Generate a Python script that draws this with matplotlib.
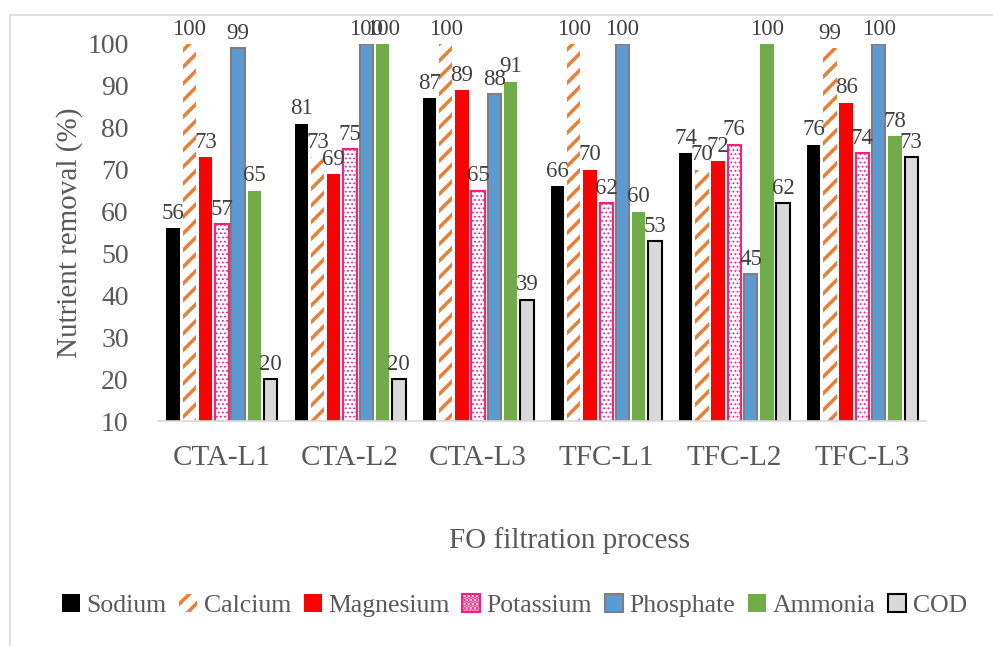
import matplotlib.pyplot as plt
import numpy as np
from matplotlib.lines import Line2D

plt.rcParams['font.family'] = ['Liberation Serif', 'DejaVu Serif']
plt.rcParams['hatch.linewidth'] = 2.5

# Data
processes = ['CTA-L1', 'CTA-L2', 'CTA-L3', 'TFC-L1', 'TFC-L2', 'TFC-L3']
sodium = [56, 81, 87, 66, 74, 76]
calcium = [100, 73, 100, 100, 70, 99]
magnesium = [73, 69, 89, 70, 72, 86]
potassium = [57, 75, 65, 62, 76, 74]
phosphate = [99, 100, 88, 100, 45, 100]
ammonia = [65, 100, 91, 60, 100, 78]
cod = [20, 20, 39, 53, 62, 73]
yticks = [10, 20, 30, 40, 50, 60, 70, 80, 90, 100]

series = [
    ('Sodium', sodium, dict(color='black', linewidth=0)),
    ('Calcium', calcium, dict(facecolor='white', edgecolor='#ED7D31', hatch='//', linewidth=0)),
    ('Magnesium', magnesium, dict(color='#FF0000', linewidth=0)),
    ('Potassium', potassium, dict(facecolor='white', edgecolor='#FF1F7A', hatch='....', linewidth=1.5)),
    ('Phosphate', phosphate, dict(facecolor='#5B9BD5', edgecolor='#7F7F7F', linewidth=1.5)),
    ('Ammonia', ammonia, dict(color='#70AD47', linewidth=0)),
    ('COD', cod, dict(facecolor='#D9D9D9', edgecolor='black', linewidth=1.5)),
]

text_col = '#595959'
fig = plt.figure(figsize=(9.93, 6.46), dpi=100)
ax = fig.add_axes((0.159, 0.348, 0.774, 0.584))

x = np.arange(len(processes))
pitch = 0.127
width = 0.105
for i, (name, vals, style) in enumerate(series):
    pos = x + (i - 3) * pitch
    # potassium dots are finer than the calcium stripes
    hlw = 0.8 if name == 'Potassium' else 2.5
    with plt.rc_context({'hatch.linewidth': hlw}):
        ax.bar(pos, vals, width, label=name, **style)
    for p, v in zip(pos, vals):
        ax.text(p, v + 1.0, str(v), ha='center', va='bottom', fontsize=16.5,
                color='#404040', clip_on=False)

ax.set_ylim(10, 100)
ax.set_xlim(-0.5, len(processes) - 0.5)
ax.set_yticks(yticks)
ax.set_xticks(x)
ax.set_xticklabels(processes)
ax.tick_params(axis='y', length=0, labelsize=20, labelcolor=text_col, pad=21)
ax.tick_params(axis='x', length=0, labelsize=21, labelcolor=text_col, pad=17)
for s in ['top', 'right', 'left']:
    ax.spines[s].set_visible(False)
ax.spines['bottom'].set_color('#D9D9D9')
ax.spines['bottom'].set_linewidth(1.2)

fig.text(70 / 993, 1 - 233 / 646, 'Nutrient removal (%)', rotation=90,
         ha='center', va='center', fontsize=21, color=text_col)
fig.text(570 / 993, 1 - 541 / 646, 'FO filtration process', ha='center', va='center',
         fontsize=21, color=text_col)

fig.legend(loc='center', bbox_to_anchor=(0.518, 0.063), ncol=7, frameon=False,
           fontsize=18.5, handlelength=0.7, handleheight=0.7, handletextpad=0.25,
           columnspacing=0.5, labelcolor=text_col)

# thin frame lines of the original chart area
fig.add_artist(Line2D([10 / 993, 10 / 993], [0, 1 - 15 / 646], color='#D9D9D9', lw=1.2))
fig.add_artist(Line2D([10 / 993, 1], [1 - 15 / 646, 1 - 15 / 646], color='#D9D9D9', lw=1.2))

fig.savefig('out.png', dpi=100)
